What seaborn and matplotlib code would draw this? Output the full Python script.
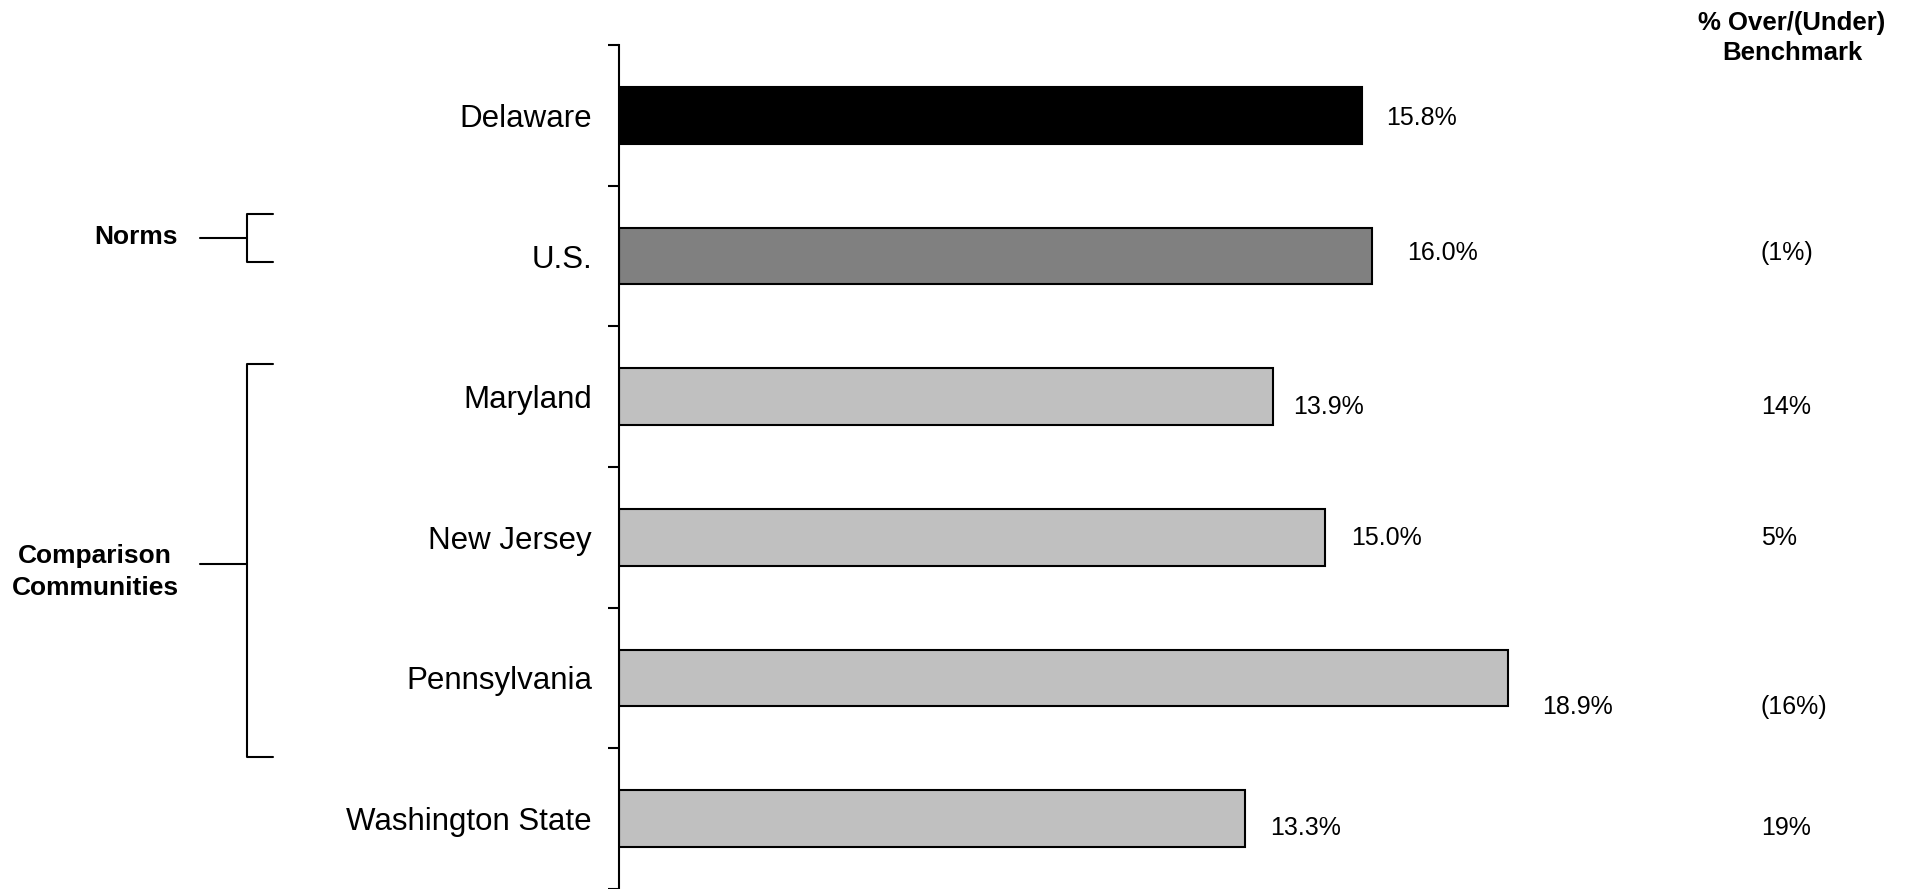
import matplotlib
matplotlib.use("Agg")
import matplotlib.pyplot as plt
from matplotlib.lines import Line2D
import seaborn as sns
import pandas as pd

# ---- data ----
categories = ["Delaware", "U.S.", "Maryland", "New Jersey", "Pennsylvania", "Washington State"]
values = [15.8, 16.0, 13.9, 15.0, 18.9, 13.3]
value_labels = ["15.8%", "16.0%", "13.9%", "15.0%", "18.9%", "13.3%"]
benchmark_labels = ["", "(1%)", "14%", "5%", "(16%)", "19%"]
bar_colors = ["#000000", "#808080", "#C0C0C0", "#C0C0C0", "#C0C0C0", "#C0C0C0"]

# label nudges (pixels, dx from bar end, dy downward from bar center)
label_dx = [24, 35, 20, 26, 34, 25]
label_dy = [3, -3, 10, 1, 29, 9]

W, H, DPI = 1913, 889, 100

sns.set_theme(style="white")
plt.rcParams["font.family"] = ["Liberation Sans", "DejaVu Sans"]

fig = plt.figure(figsize=(W / DPI, H / DPI), dpi=DPI)
ax_left = 619 / W
ax_top = 45
ax = fig.add_axes([ax_left, 0.0, 1 - ax_left, (H - ax_top) / H])

df = pd.DataFrame({"cat": categories, "val": values})
sns.barplot(data=df, x="val", y="cat", hue="cat", palette=bar_colors,
            width=0.405, edgecolor="black", linewidth=1.5, legend=False,
            saturation=1, ax=ax)

ax.set_xlim(0, (W - 619) / 47.05)
ax.set_ylim(len(categories) - 0.5, -0.5)
ax.set_xlabel("")
ax.set_ylabel("")
ax.set_xticks([])
for s in ["top", "right", "bottom"]:
    ax.spines[s].set_visible(False)
ax.spines["left"].set_linewidth(1.5)
ax.spines["left"].set_color("black")

ax.set_yticks(range(len(categories)))
ax.set_yticklabels(categories, fontsize=22.5, color="black")
ax.tick_params(axis="y", which="major", length=0, pad=19.5)
ax.set_yticks([i - 0.5 for i in range(len(categories) + 1)], minor=True)
ax.tick_params(axis="y", which="minor", length=8, width=1.5, color="black",
               direction="out", left=True)

# value labels
for i, (v, lab) in enumerate(zip(values, value_labels)):
    ax.annotate(lab, xy=(v, i), xytext=(label_dx[i], -label_dy[i]),
                textcoords="offset pixels", ha="left", va="center",
                fontsize=18, color="black")

# benchmark column
for i, lab in enumerate(benchmark_labels):
    if lab:
        ax.annotate(lab, xy=(1761 / W, i), xycoords=(fig.transFigure, ax.transData),
                    xytext=(0, -label_dy[i]), textcoords="offset pixels",
                    ha="left", va="center", fontsize=18, color="black")

fig.text(1792 / W, 1 - 38 / H, "% Over/(Under)\nBenchmark", ha="center", va="center",
         fontsize=18.5, fontweight="bold", linespacing=1.33, color="black")

# group brackets (figure pixel coordinates)
def fx(x):
    return x / W

def fy(y):
    return 1 - y / H

def line(xs, ys):
    fig.add_artist(Line2D([fx(x) for x in xs], [fy(y) for y in ys],
                          transform=fig.transFigure, color="black", linewidth=1.5))

# Norms
line([200, 247], [238, 238])
line([273, 247, 247, 273], [214, 214, 262, 262])
fig.text(fx(178), fy(237), "Norms", ha="right", va="center", fontsize=19,
         fontweight="bold", color="black")

# Comparison Communities
line([200, 247], [564, 564])
line([273, 247, 247, 273], [364, 364, 757, 757])
fig.text(fx(95), fy(572), "Comparison\nCommunities", ha="center", va="center",
         fontsize=19, fontweight="bold", linespacing=1.38, color="black",
         multialignment="center")

fig.savefig("out.png", dpi=DPI)
